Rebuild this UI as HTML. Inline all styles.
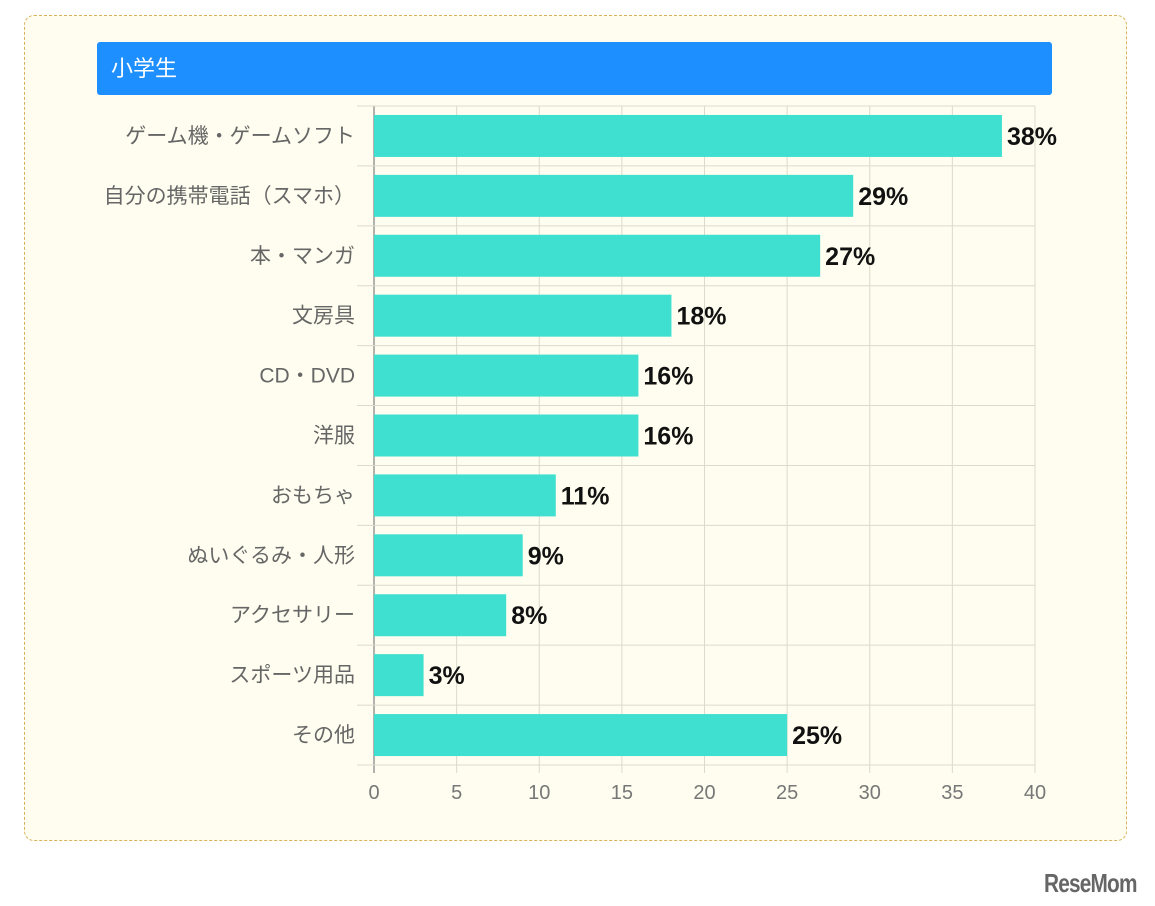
<!DOCTYPE html>
<html><head><meta charset="utf-8"><style>
body{margin:0;width:1155px;height:906px;background:#fff;position:relative;overflow:hidden;font-family:"Liberation Sans","Noto Sans CJK JP",sans-serif}
#card{position:absolute;left:24px;top:15px;width:1101px;height:824px;background:#fefdef;border:1px dashed #d9b25e;border-radius:10px}
#hdr{position:absolute;left:97px;top:42px;width:955px;height:53px;background:#1e8fff;border-radius:3px;color:#fff;font-size:22px;line-height:53px;box-sizing:border-box;padding-left:14px}
#logo{position:absolute;left:1044px;top:868px;font-size:26px;font-weight:bold;color:#666;letter-spacing:-1px;transform:scaleX(.8);transform-origin:left}
</style></head><body>
<div id="card"></div>
<div id="hdr">小学生</div>
<svg id="chart" width="1155" height="906" style="position:absolute;left:0;top:0"></svg>
<div id="logo">ReseMom</div>
<script>
const categories=["ゲーム機・ゲームソフト","自分の携帯電話（スマホ）","本・マンガ","文房具","CD・DVD","洋服","おもちゃ","ぬいぐるみ・人形","アクセサリー","スポーツ用品","その他"];
const values=[38,29,27,18,16,16,11,9,8,3,25];
const ticks=[0,5,10,15,20,25,30,35,40];
const svg=document.getElementById('chart');const NS='http://www.w3.org/2000/svg';
const X0=374,X1=1035,Y0=106,Y1=765,XMAX=40;
const xs=v=>X0+(X1-X0)*v/XMAX;const band=(Y1-Y0)/categories.length;
function mk(t,a){const e=document.createElementNS(NS,t);for(const k in a)e.setAttribute(k,a[k]);svg.appendChild(e);return e;}
ticks.forEach(t=>{const l=mk('line',{x1:xs(t),x2:xs(t),y1:Y0,y2:Y1+8,stroke:t===0?'#999':'#dcdacb','stroke-width':t===0?1.5:1});

const tx=mk('text',{x:xs(t),y:799,'text-anchor':'middle','font-size':20,fill:'#777'});tx.textContent=t;
});
for(let i=0;i<=categories.length;i++){const l=mk('line',{x1:357,x2:X1,y1:Y0+i*band,y2:Y0+i*band,stroke:'#dcdacb'});
}
categories.forEach((c,i)=>{const cy=Y0+band*(i+0.5);
const t=mk('text',{x:355,y:cy+7,'text-anchor':'end','font-size':21,fill:'#666'});t.textContent=c;

const r=mk('rect',{x:X0,y:cy-21,width:xs(values[i])-X0,height:42,fill:'#40e0d0'});

const v=mk('text',{x:xs(values[i])+5,y:cy+9,'font-size':25,'font-weight':'bold',fill:'#111'});v.textContent=values[i]+'%';
});
</script></body></html>
